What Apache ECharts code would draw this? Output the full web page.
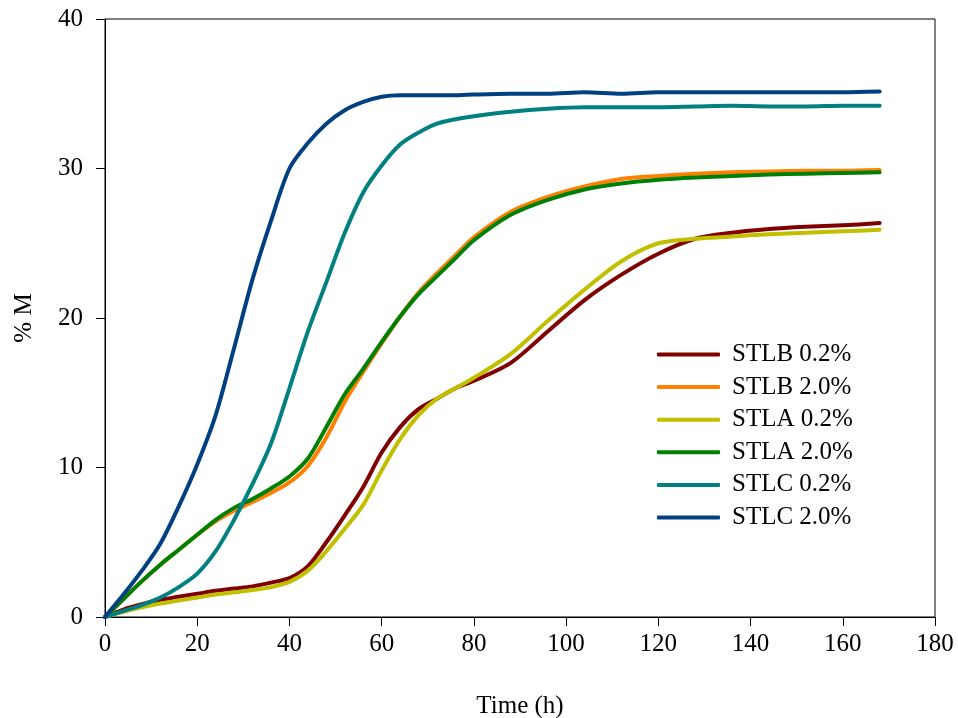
<!DOCTYPE html>
<html>
<head>
<meta charset="utf-8">
<script src="https://cdn.jsdelivr.net/npm/echarts@6/dist/echarts.min.js"></script>
<style>
html,body{margin:0;padding:0;background:#fff;}
#chart{width:958px;height:718px;}
</style>
</head>
<body>
<div id="chart"></div>
<script>
const timeH = [0,4,8,12,16,20,24,28,32,36,40,44,48,52,56,60,64,68,72,76,80,88,96,104,112,120,128,136,144,152,160,168];

const seriesNames = ['STLB 0.2%','STLB 2.0%','STLA 0.2%','STLA 2.0%','STLC 0.2%','STLC 2.0%'];

const stlb02 = [0,0.5,0.85,1.15,1.35,1.55,1.75,1.9,2.05,2.3,2.6,3.4,5.0,6.8,8.7,11.0,12.7,13.9,14.6,15.3,15.8,17.0,19.1,21.2,22.9,24.3,25.3,25.7,25.95,26.1,26.2,26.35];
const stlb20 = [0,1.2,2.4,3.5,4.5,5.5,6.4,7.1,7.7,8.3,9.0,10.1,12.0,14.4,16.4,18.3,20.1,21.7,23.0,24.2,25.4,27.1,28.1,28.8,29.3,29.5,29.65,29.75,29.8,29.85,29.85,29.9];
const stla02 = [0,0.35,0.65,0.9,1.1,1.3,1.5,1.65,1.8,2.0,2.35,3.1,4.4,5.9,7.5,9.8,11.9,13.5,14.6,15.3,16.0,17.6,19.8,21.9,23.8,25.0,25.3,25.45,25.6,25.7,25.8,25.9];
const stla20 = [0,1.2,2.4,3.5,4.5,5.5,6.5,7.3,7.9,8.6,9.4,10.6,12.7,14.9,16.6,18.4,20.1,21.6,22.8,24.0,25.2,26.9,27.9,28.6,29.0,29.25,29.4,29.5,29.6,29.65,29.7,29.75];
const stlc02 = [0,0.4,0.8,1.3,2.0,2.9,4.4,6.5,8.9,11.6,15.3,19.1,22.4,25.7,28.4,30.2,31.6,32.4,33.0,33.3,33.5,33.8,34.0,34.1,34.1,34.1,34.15,34.2,34.15,34.15,34.2,34.2];
const stlc20 = [0,1.5,3.1,4.9,7.4,10.2,13.5,18.0,22.6,26.5,30.0,31.7,33.0,33.9,34.45,34.8,34.9,34.9,34.9,34.9,34.95,35.0,35.0,35.1,35.0,35.1,35.1,35.1,35.1,35.1,35.1,35.15];

const xTicks = [0,20,40,60,80,100,120,140,160,180];
const yTicks = [0,10,20,30,40];

const colors = ['#800000','#FF8000','#C0C000','#008000','#008080','#004080'];
const allValues = [stlb02, stlb20, stla02, stla20, stlc02, stlc20];

const FONT = '"Liberation Serif","Times New Roman",serif';

const chart = echarts.init(document.getElementById('chart'), null, {renderer:'canvas'});
chart.setOption({
  backgroundColor:'#fff',
  animation:false,
  grid:{left:105,right:23,top:19,bottom:101,containLabel:false,outerBoundsMode:'none',
    show:true,borderColor:'#000',borderWidth:1,backgroundColor:'transparent'},
  legend:{
    orient:'vertical',
    left:652, top:337,
    itemWidth:63, itemHeight:4, itemGap:7.6,
    icon:'roundRect',
    data:seriesNames,
    textStyle:{fontFamily:FONT,fontSize:25,color:'#000',lineHeight:25,padding:[0,0,0,7]}
  },
  xAxis:{
    type:'value', min:0, max:180, interval:20,
    name:'Time (h)', nameLocation:'middle', nameGap:77,
    nameTextStyle:{fontFamily:FONT,fontSize:25,color:'#000'},
    axisLine:{show:true,onZero:false,lineStyle:{color:'#000',width:1}},
    axisTick:{show:true,inside:false,length:9,lineStyle:{color:'#000'}},
    axisLabel:{fontFamily:FONT,fontSize:25,color:'#000',margin:15,
      formatter:v=>xTicks.includes(v)?String(v):''},
    splitLine:{show:false}
  },
  yAxis:{
    type:'value', min:0, max:40, interval:10,
    name:'% M', nameLocation:'middle', nameGap:68, nameRotate:90,
    nameTextStyle:{fontFamily:FONT,fontSize:25,color:'#000'},
    axisLine:{show:true,onZero:false,lineStyle:{color:'#000',width:1}},
    axisTick:{show:true,inside:false,length:9,lineStyle:{color:'#000'}},
    axisLabel:{fontFamily:FONT,fontSize:25,color:'#000',margin:22,
      formatter:v=>yTicks.includes(v)?String(v):''},
    splitLine:{show:false}
  },
  series: seriesNames.map((n,i)=>({
    name:n, type:'line',
    data: timeH.map((t,j)=>[t, allValues[i][j]]),
    showSymbol:false, symbol:'none',
    smooth:0.3,
    color:colors[i],
    lineStyle:{color:colors[i],width:4,cap:'round',join:'round'},
    itemStyle:{color:colors[i]},
    z:2+i
  }))
});
</script>
</body>
</html>
